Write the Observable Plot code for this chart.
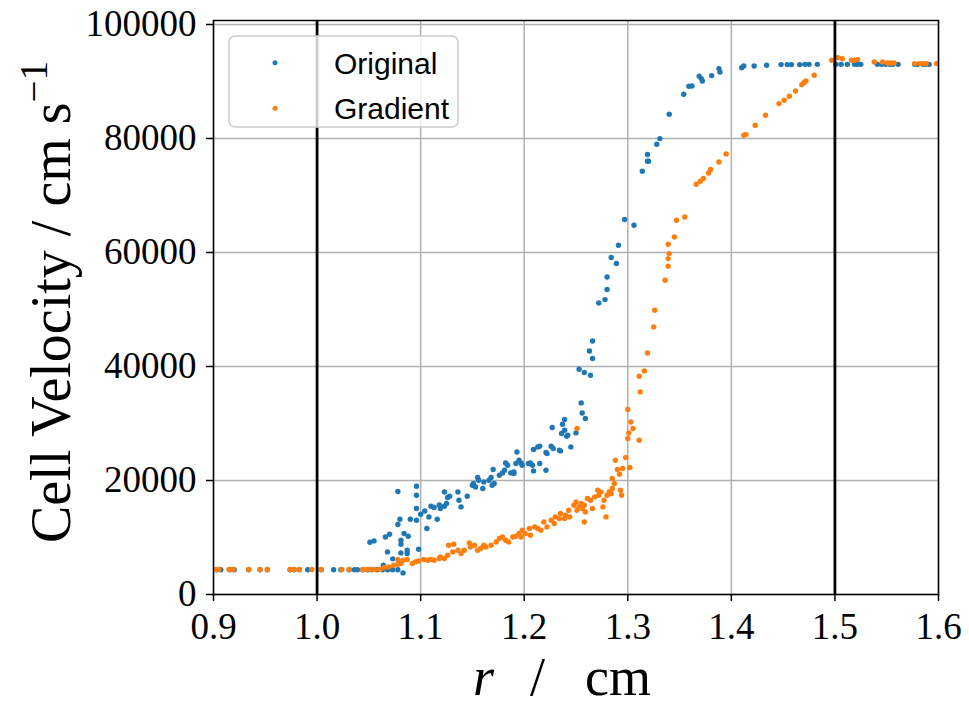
<!DOCTYPE html>
<html><head><meta charset="utf-8">
<script src="https://cdn.jsdelivr.net/npm/d3@7"></script>
<script src="https://cdn.jsdelivr.net/npm/@observablehq/plot@0.6"></script>
<style>body{margin:0;background:#fff} svg{display:block}</style>
</head><body><div id="chart"></div>
<script>
const seriesNames = ["Original", "Gradient"];
const seriesColors = ["#1f77b4", "#ff7f0e"];
const xTicks = [0.9, 1.0, 1.1, 1.2, 1.3, 1.4, 1.5, 1.6];
const yTicks = [0, 20000, 40000, 60000, 80000, 100000];
const boundaryR = [1.0, 1.5];

// [r (cm), velocity (cm/s)]
const originalRV = [
[0.903,4350],[0.907,4350],[0.916,4350],[0.920,4350],[0.934,4350],[0.945,4350],[0.952,4350],[0.974,4350],[0.978,4350],[0.983,4350],[0.991,4350],[1.004,4350],[1.016,4350],[1.023,4350],[1.031,4350],[1.036,4350],[1.039,4350],[1.044,4350],[1.049,4350],[1.053,4350],[1.058,4350],[1.063,4350],[1.068,4350],[1.073,4350],[1.078,4350],
[1.083,3790],[1.064,5140],[1.073,6250],[1.068,7470],[1.081,7300],[1.087,7190],[1.087,7770],[1.081,8820],[1.081,9520],[1.088,10230],[1.084,10700],[1.051,9170],[1.055,9400],[1.066,10100],[1.070,10580],[1.078,12280],[1.080,13200],[1.090,13200],[1.096,13030],[1.096,15080],[1.096,17420],[1.096,19000],[1.078,18070],[1.098,7950],
[1.100,14080],[1.104,14660],[1.106,11580],[1.108,13610],[1.110,15490],[1.113,15260],[1.116,13210],[1.118,15720],
[1.119,15080],[1.123,18000],[1.126,17010],[1.128,17240],[1.125,15960],[1.123,15490],[1.136,18000],[1.137,16540],[1.139,15370],[1.145,17240],
[1.150,19170],[1.151,19470],[1.153,18870],[1.155,20520],[1.156,20050],[1.160,18590],[1.161,19750],[1.166,20050],[1.168,20520],[1.169,19170],[1.171,19470],[1.170,21920],[1.176,20920],[1.179,21330],[1.181,21800],[1.182,23080],[1.184,22680],[1.187,21330],[1.190,21500],[1.190,21220],[1.193,25010],[1.192,22980],[1.195,23560],[1.197,23080],[1.198,22680],[1.204,22980],[1.206,23080],[1.208,22680],[1.209,21680],[1.209,25430],[1.213,25890],[1.215,26010],[1.215,22980],[1.221,24910],[1.222,24730],[1.221,21800],[1.226,26010],[1.228,25610],[1.227,29290],[1.234,25310],[1.236,28240],[1.239,28820],[1.241,27770],
[1.239,30700],[1.237,29870],[1.242,27940],[1.245,25890],[1.235,25190],[1.250,28350],[1.255,33610],[1.256,31850],[1.259,30870],
[1.253,39520],[1.258,38940],[1.264,38470],[1.266,41390],[1.263,42730],[1.266,44480],[1.272,51150],[1.278,51740],[1.280,53500],[1.280,55710],[1.284,59110],[1.289,58060],[1.291,61270],[1.297,65780],[1.306,64780],[1.314,74250],[1.319,76000],[1.320,76000],[1.319,77180],[1.328,78980],[1.331,79980],
[1.340,84250],[1.354,87750],[1.359,89160],[1.362,89210],[1.369,90910],[1.371,90510],[1.372,90090],[1.381,91030],[1.388,92260],[1.389,91660],[1.410,92430],[1.412,92720],[1.422,92720],[1.434,92840],[1.448,92960],[1.454,92960],[1.458,92960],[1.466,92960],[1.471,93010],[1.475,93010],[1.483,93010],
[1.501,93010],[1.506,93010],[1.512,93010],[1.519,93010],[1.522,93010],[1.525,93010],[1.541,93010],[1.545,93010],[1.549,93010],[1.553,93010],[1.556,93010],[1.561,93010],[1.577,93010],[1.580,93010],[1.585,93010],[1.588,93010],[1.591,93010]
];

const gradientRV = [
[0.902,4385],[0.905,4385],[0.915,4385],[0.919,4385],[0.934,4385],[0.945,4385],[0.952,4385],[0.974,4385],[0.978,4385],[0.983,4385],[0.995,4385],[1.004,4385],[1.024,4385],[1.031,4385],[1.044,4385],[1.048,4385],[1.052,4385],[1.056,4385],[1.061,4385],
[1.065,4740],[1.069,4840],[1.074,5140],[1.078,5310],[1.081,5440],[1.083,6020],[1.078,6140],[1.087,6140],
[1.092,5440],[1.095,5720],[1.098,5890],[1.103,6140],[1.107,6020],[1.110,6140],[1.113,6020],[1.118,6310],
[1.119,6600],[1.123,6310],[1.126,6890],[1.127,8650],[1.132,8820],[1.131,7470],[1.136,7770],[1.139,7190],[1.142,7770],[1.147,9050],[1.148,8350],[1.152,8650],[1.155,7770],[1.158,8070],[1.161,8650],[1.163,8350],[1.168,8650],[1.173,9230],[1.176,9820],[1.179,10100],[1.182,9520],[1.185,9230],[1.189,10100],[1.192,10230],[1.195,10700],[1.197,10100],[1.198,11280],[1.201,10700],[1.205,11580],[1.206,10400],[1.210,11860],[1.213,11580],[1.216,11280],[1.219,12730],[1.222,11860],[1.226,13030],[1.229,12450],[1.230,13610],[1.234,13330],[1.235,14210],[1.239,13330],[1.240,13910],[1.243,14790],[1.244,13610],
[1.248,15660],[1.250,16240],[1.253,15370],[1.251,14790],[1.255,15960],[1.256,15080],[1.258,15660],[1.259,14490],[1.258,12730],[1.261,16840],[1.264,16540],[1.266,15080],[1.268,17120],[1.271,18290],[1.272,17420],[1.274,18000],[1.276,15370],[1.277,16540],[1.279,13610],[1.280,17420],[1.282,18000],[1.284,17720],[1.285,18590],[1.287,19470],[1.285,20350],[1.288,23560],[1.290,21920],[1.292,21100],[1.293,18290],[1.295,22100],[1.294,17420],[1.298,24030],[1.300,27360],[1.301,28340],[1.303,30270],[1.300,32450],[1.305,29120],[1.311,27060],[1.312,35540],[1.302,22280],[1.251,29120],
[1.311,38290],[1.316,39220],[1.319,42380],[1.325,46940],[1.326,49870],[1.336,55130],[1.339,57580],[1.339,58930],[1.340,59810],[1.339,61440],[1.345,62720],[1.347,65650],[1.355,66230],[1.366,71970],[1.370,72490],[1.373,72970],[1.378,73950],[1.380,74550],[1.388,75880],[1.395,77280],
[1.412,80560],[1.414,80680],[1.423,82320],[1.433,84070],[1.446,86120],[1.451,86700],[1.456,87400],[1.462,88330],[1.468,89450],[1.470,89800],[1.472,90090],[1.480,91090],
[1.497,93720],[1.503,94190],[1.507,94010],[1.516,93720],[1.519,93720],[1.522,93840],[1.538,93420],[1.546,93420],[1.551,93240],[1.554,93240],[1.557,93240],[1.577,93140],[1.582,93140],[1.585,93140],[1.588,93140],[1.598,93140]
];

const points = [
  ...originalRV.map(([r, v]) => ({r, v, s: seriesNames[0]})),
  ...gradientRV.map(([r, v]) => ({r, v, s: seriesNames[1]}))
];

const serif = "'Liberation Serif', 'DejaVu Serif', serif";
const plot = Plot.plot({
  width: 969, height: 711,
  marginLeft: 213, marginRight: 31, marginTop: 20, marginBottom: 117,
  style: {fontFamily: serif, fontSize: "37px", color: "black", background: "white", overflow: "visible"},
  x: {domain: [0.9, 1.6], label: null},
  y: {domain: [0, 100700], label: null},
  color: {domain: seriesNames, range: seriesColors},
  marks: [
    Plot.gridX(xTicks, {stroke: "#b0b0b0", strokeOpacity: 1, strokeWidth: 1.5}),
    Plot.gridY(yTicks, {stroke: "#b0b0b0", strokeOpacity: 1, strokeWidth: 1.5}),
    Plot.dot(points, {x: "r", y: "v", fill: "s", r: 2.7, stroke: null}),
    Plot.ruleX(boundaryR, {stroke: "black", strokeWidth: 2.8}),
    Plot.frame({stroke: "black", strokeWidth: 1.5}),
    Plot.axisX(xTicks, {tickSize: 7, tickPadding: 11, strokeWidth: 1.5, tickFormat: d3.format(".1f"), label: null, fontSize: 37}),
    Plot.axisY(yTicks, {tickSize: 7, tickPadding: 10, strokeWidth: 1.5, tickFormat: d3.format("d"), label: null, fontSize: 37})
  ]
});
document.getElementById("chart").appendChild(plot);

const svg = d3.select(plot);
// x axis label
const xl = svg.append("text").attr("y", 695).attr("text-anchor", "start").attr("font-family", serif).attr("font-size", 54).attr("fill", "black");
xl.append("tspan").attr("x", 473).attr("font-style", "italic").text("r");
xl.append("tspan").attr("x", 530).text("/");
xl.append("tspan").attr("x", 585).text("cm");
// y axis label
const yl = svg.append("text").attr("transform", "translate(70,302) rotate(-90)")
  .attr("text-anchor", "middle").attr("font-family", serif).attr("font-size", 56).attr("fill", "black");
yl.append("tspan").text("Cell Velocity / cm s");
yl.append("tspan").attr("font-size", 39).attr("dy", -23).text("−1");

// legend
const lg = svg.append("g");
lg.append("rect").attr("x", 229).attr("y", 36).attr("width", 229).attr("height", 91).attr("rx", 6)
  .attr("fill", "white").attr("fill-opacity", 0.8).attr("stroke", "#cccccc").attr("stroke-width", 1.5);
seriesNames.forEach((name, i) => {
  const cy = 62.7 + i * 45.6;
  lg.append("circle").attr("cx", 275).attr("cy", cy).attr("r", 2.5).attr("fill", seriesColors[i]);
  lg.append("text").attr("x", 334).attr("y", cy + 10.8).attr("text-anchor", "start")
    .attr("font-family", "'Liberation Sans', Arial, sans-serif")
    .attr("font-size", 30).attr("fill", "black").text(name);
});
</script>
</body></html>
